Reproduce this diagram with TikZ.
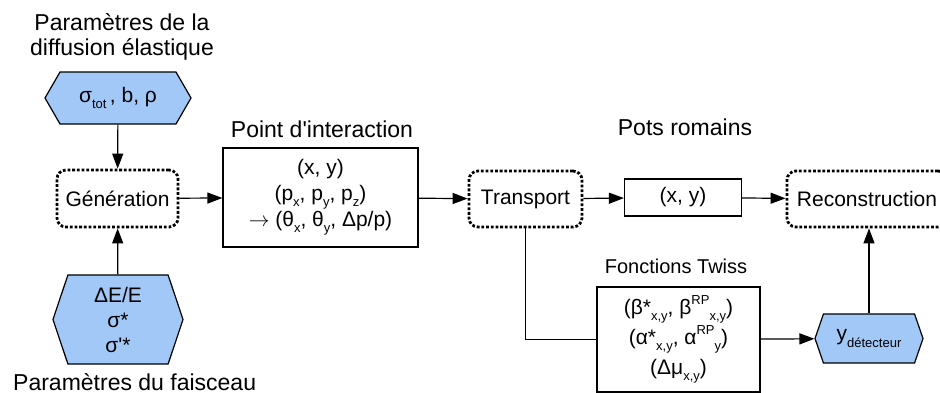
\documentclass[tikz,border=0pt]{standalone}
\usepackage{fontspec}
\setmainfont{Liberation Sans}
\usetikzlibrary{arrows.meta,positioning,shapes.symbols}
\definecolor{parblue}{RGB}{162,200,248}
\newcommand{\lowtxt}[1]{\raisebox{-0.55ex}{\fontsize{13}{13}\selectfont #1}}
\newcommand{\hightxt}[1]{\raisebox{0.85ex}{\fontsize{13}{13}\selectfont #1}}

\begin{document}
\begin{tikzpicture}[x=1pt,y=1pt,
  every node/.style={font=\fontsize{21}{26}\selectfont},
  proc/.style={draw,line width=2.8pt,dash pattern=on 2.8pt off 1.9pt,rounded corners=9pt,inner sep=0pt},
  databox/.style={draw,line width=1.2pt,align=center,inner sep=0pt},
  param/.style={signal,signal to=west and east,draw,line width=1.2pt,fill=parblue,align=center,inner sep=0pt},
  title/.style={font=\fontsize{23}{25}\selectfont,inner sep=0pt},
  flow/.style={-{Triangle[length=15pt,width=11pt]},line width=1.2pt}]
\useasboundingbox (0,0) rectangle (940,-392);
% parameters and generation
\node[title,align=center] (tdiff) at (122,-37) {Paramètres de la\\diffusion élastique};
\node[param,minimum width=146pt,minimum height=52pt,signal pointer angle=120] (hexel) at (118,-98) {σ\lowtxt{tot}\,, b, ρ};
\node[proc,minimum width=121pt,minimum height=57pt] (gen) at (117.5,-198.5) {Génération};
\node[param,minimum width=130pt,minimum height=89pt,signal pointer angle=143,font=\fontsize{21}{25}\selectfont] (hexbeam) at (118,-319.5) {ΔE/E\\σ*\\σ\textquotesingle*};
\node[title,anchor=base west] (tbeam) at (13,-390) {Paramètres du faisceau};
% interaction point
\node[databox,minimum width=195pt,minimum height=99pt] (ip) at (320.5,-197.5) {(x, y)\\(p\lowtxt{x}, p\lowtxt{y}, p\lowtxt{z})\\$\rightarrow$ (θ\lowtxt{x}, θ\lowtxt{y}, Δp/p)};
\node[title,anchor=base] (tip) at (322,-137) {Point d\textquotesingle interaction};
% roman pots
\node[proc,minimum width=113pt,minimum height=56pt] (trans) at (525.5,-199) {Transport};
\node[databox,minimum width=117pt,minimum height=37pt] (xy) at (683,-197.5) {(x, y)};
\node[title,anchor=base] (tpots) at (685,-135) {Pots romains};
\node[proc,minimum width=160pt,minimum height=56pt] (reco) at (867,-199) {Reconstruction};
\node[databox,minimum width=163pt,minimum height=105pt,font=\fontsize{21}{30}\selectfont] (twiss) at (678.5,-339.5) {(β*\lowtxt{x,y}, β\hightxt{RP}\lowtxt{x,y})\\(α*\lowtxt{x,y}, α\hightxt{RP}\lowtxt{y})\\(Δμ\lowtxt{x,y})};
\node[title,anchor=base,font=\fontsize{20}{22}\selectfont] (ttwiss) at (676,-273) {Fonctions Twiss};
\node[param,minimum width=108pt,minimum height=49pt,signal pointer angle=142] (ydet) at (869,-338.5) {y\lowtxt{détecteur}};
% connectors
\draw[flow] (hexel) -- (gen);
\draw[flow] (hexbeam) -- (gen);
\draw[flow] (gen) -- (ip);
\draw[flow] (ip) -- (trans);
\draw[flow] (trans) -- (xy);
\draw[flow] (xy) -- (reco);
\draw[line width=1.2pt] (trans.south) |- (twiss.west);
\draw[flow] (twiss) -- (ydet);
\draw[flow] (ydet.north) -- (ydet.north |- reco.south);
\end{tikzpicture}
\end{document}
